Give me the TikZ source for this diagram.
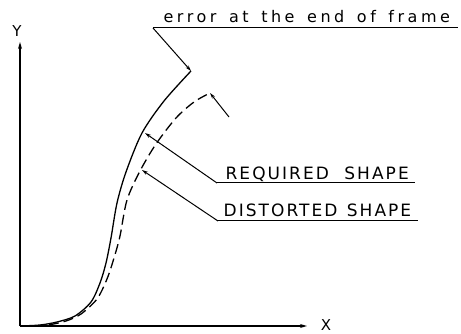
\documentclass[tikz,border=0pt]{standalone}
\usepackage{fontspec}
\setmainfont{DejaVu Sans}
\newfontfamily\labfont[LetterSpace=12]{DejaVu Sans}
\newfontfamily\errfont[LetterSpace=22]{DejaVu Sans}
\usetikzlibrary{arrows.meta}
\begin{document}
\begin{tikzpicture}[x=1pt,y=-1pt,line width=1.3pt,
  lab/.style={font=\labfont\fontsize{17}{17}\selectfont, inner sep=0pt, anchor=base west},
  axlab/.style={font=\fontsize{15}{15}\selectfont, inner sep=0pt},
  tip/.style={-{Stealth[length=6pt,width=3.5pt]}, line width=1pt},
  uline/.style={line width=1pt},
  ax/.style={-{Stealth[length=7pt,width=4pt]}, line width=1.3pt}]
\useasboundingbox (0,0) rectangle (461,334);
% axes
\coordinate (O) at (20,326);
\coordinate (Ytop) at (20,42);
\coordinate (Xend) at (307,326);
\draw[ax] (O) -- (Ytop);
\draw[ax] (O) -- (Xend);
\node[axlab] (Y) at (17,31) {Y};
\node[axlab] (X) at (326,325) {X};
% required shape
\coordinate (Rend) at (191,71);
\coordinate (Rpt) at (145,133);
\draw plot[smooth] coordinates {(20,326) (40,325) (57,322) (75,316) (91,302) (100,283) (106,263) (111,238) (117,203) (126,172) (142,133) (164,101) (191,71)};
% distorted shape
\coordinate (Dend) at (210,93);
\coordinate (Dpt) at (142,170);
\draw[dashed, dash pattern=on 10pt off 5pt] plot[smooth] coordinates {(34,326) (48,325) (66,321) (81,314) (97,299) (107,279) (114,258) (120,236) (127,200) (140,171) (156,144) (176,118) (194,102) (210,93)};
% labels
\node[lab, font=\errfont\fontsize{16}{16}\selectfont] (err) at (163,23) {error\hspace{4pt} at\hspace{4pt} the\hspace{4pt} end\hspace{4pt} of\hspace{4pt} frame};
\coordinate (errL) at (153,28);
\coordinate (errR) at (458,28);
\draw[uline] (errL) -- (errR);
\draw[tip] (errL) -- (Rend);
\coordinate (Dlead) at (229,117);
\draw[tip] (Dlead) -- (Dend);
\node[lab] (req) at (225,180) {REQUIRED\hspace{8pt} SHAPE};
\coordinate (reqL) at (217,183);
\coordinate (reqR) at (415,183);
\draw[uline] (reqL) -- (reqR);
\draw[tip] (reqL) -- (Rpt);
\node[lab] (dis) at (223,217) {DISTORTED\hspace{2pt} SHAPE};
\coordinate (disL) at (218,221);
\coordinate (disR) at (418,221);
\draw[uline] (disL) -- (disR);
\draw[tip] (disL) -- (Dpt);
\end{tikzpicture}
\end{document}
